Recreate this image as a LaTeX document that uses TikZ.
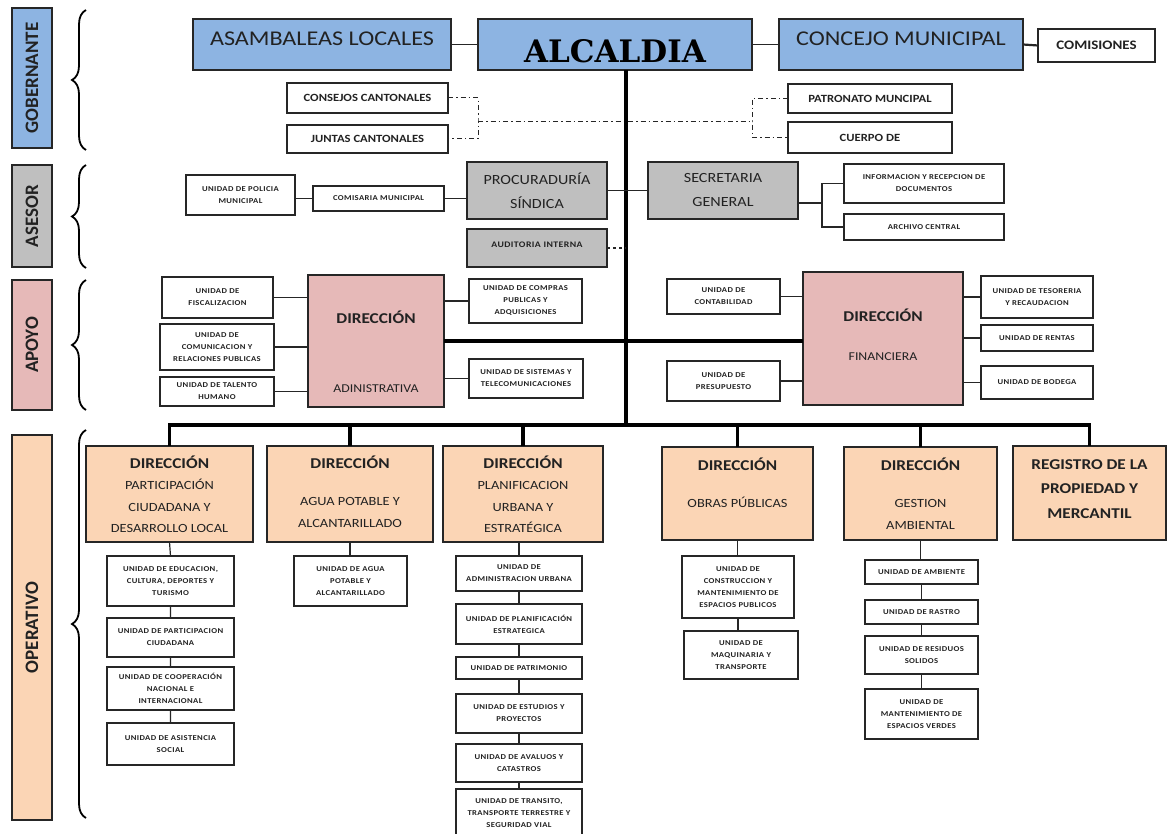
\documentclass[tikz,border=0pt]{standalone}
\usepackage{fontspec}
\setmainfont{Carlito}[FakeStretch=1.15]
\newfontfamily\tinyfont{Carlito}[FakeStretch=1.15,LetterSpace=5]
\newfontfamily\labfont{Carlito}
\newfontfamily\alcfont{DejaVu Serif}
\usetikzlibrary{decorations.pathreplacing}
\definecolor{gblue}{HTML}{8DB4E2}
\definecolor{ggray}{HTML}{BFBFBF}
\definecolor{gpink}{HTML}{E6B9B8}
\definecolor{gpeach}{HTML}{FBD5B5}
\definecolor{edge}{HTML}{262626}
\definecolor{txt}{HTML}{222222}
\newcommand\mydir{{\bfseries\fontsize{15}{18}\selectfont DIRECCIÓN}}
\begin{document}
\begin{tikzpicture}[x=1pt,y=-1pt,
 box/.style={rectangle,draw=edge,line width=1.2pt,inner sep=1pt,outer sep=0pt,align=center,text=txt},
 wbox/.style={box,fill=white},
 tiny/.style={wbox,font=\tinyfont\bfseries\fontsize{7.5}{12}\selectfont},
 small/.style={wbox,font=\bfseries\fontsize{11}{13}\selectfont},
 big/.style={box,fill=gblue,font=\fontsize{21}{24}\selectfont},
 asr/.style={box,fill=ggray,font=\fontsize{14}{24}\selectfont},
 apy/.style={box,fill=gpink,font=\fontsize{12}{18}\selectfont},
 opr/.style={box,fill=gpeach,font=\fontsize{12.5}{21.5}\selectfont},
 lab/.style={box,rotate=90,font=\labfont\bfseries\fontsize{19}{22}\selectfont},
 con/.style={draw=edge,line width=1.2pt},
 thk/.style={draw=black,line width=3.5pt},
 dd/.style={draw=edge,line width=1pt,dash pattern=on 5pt off 3pt on 1.5pt off 3pt},
 brc/.style={draw=black,line width=1.8pt,decorate,decoration={brace,amplitude=14pt,aspect=0.5}},
]
\useasboundingbox[fill=white] (0,0) rectangle (1173,834);

% ---------- level labels ----------
\node[lab,fill=gblue,minimum width=140,minimum height=40] (lgob) at (32,78) {GOBERNANTE};
\node[lab,fill=ggray,minimum width=102,minimum height=40] (lase) at (32,216) {ASESOR};
\node[lab,fill=gpink,minimum width=130,minimum height=40] (lapo) at (32,345) {APOYO};
\node[lab,fill=gpeach,minimum width=385,minimum height=40] (lope) at (32,627.5) {OPERATIVO};
\draw[brc] (86,150) -- (86,10);
\draw[brc] (86,268) -- (86,165);
\draw[brc] (86,410) -- (86,280);
\draw[brc] (86,818) -- (86,430);

% ---------- gobernante ----------
\node[big,minimum width=258,minimum height=51,text height=14pt,text depth=11pt] (asa) at (322,44.5) {ASAMBALEAS LOCALES};
\node[big,minimum width=274,minimum height=51,font=\alcfont\bfseries\fontsize{31}{34}\selectfont,text=black,text height=37pt,text depth=0pt] (alc) at (615,44.5) {ALCALDIA};
\node[big,minimum width=244,minimum height=51,text height=14pt,text depth=11pt] (con) at (901,44.5) {CONCEJO MUNICIPAL};
\node[wbox,minimum width=117,minimum height=33,font=\bfseries\fontsize{13}{15}\selectfont] (com) at (1096.5,45.5) {COMISIONES};
\draw[con] (asa.east) -- (alc.west);
\draw[con] (alc.east) -- (con.west);
\draw[con,line width=2.2pt] (con.east) -- (com.west);

\node[small,minimum width=161,minimum height=30] (cc) at (367.5,98) {CONSEJOS CANTONALES};
\node[small,minimum width=161,minimum height=28] (jc) at (367.5,139) {JUNTAS CANTONALES};
\node[small,minimum width=164,minimum height=29] (pm) at (870,98.5) {PATRONATO MUNCIPAL};
\node[small,minimum width=164,minimum height=31] (cb) at (870,137.5) {CUERPO DE};

\coordinate (dl) at (478,122);
\coordinate (dr) at (752,122);
\coordinate (tb) at (626,425);
\draw[dd] (cc.east) -| (dl) |- (jc.east);
\draw[dd] (dl) -- (dr);
\draw[dd] (pm.west) -| (dr) |- (cb.west);

% ---------- asesor ----------
\node[tiny,minimum width=109,minimum height=40] (pol) at (240.5,195) {UNIDAD DE POLICIA\\MUNICIPAL};
\node[tiny,minimum width=131,minimum height=25] (comi) at (378.5,198.5) {COMISARIA MUNICIPAL};
\node[asr,minimum width=140,minimum height=57] (pro) at (537,190.5) {PROCURADURÍA\\SÍNDICA};
\node[asr,minimum width=140,minimum height=38,font=\tinyfont\bfseries\fontsize{8.5}{13}\selectfont] (aud) at (537,248) {AUDITORIA INTERNA\\[-7pt]\mbox{}};
\node[asr,minimum width=150,minimum height=57] (sec) at (723,190.5) {SECRETARIA\\GENERAL};
\node[tiny,minimum width=160,minimum height=39] (info) at (924,183.5) {INFORMACION Y RECEPCION DE\\DOCUMENTOS};
\node[tiny,minimum width=160,minimum height=26] (arch) at (924,227) {ARCHIVO CENTRAL};
\coordinate (sb) at (822,203);

% ---------- apoyo ----------
\node[tiny,minimum width=111,minimum height=41] (fis) at (217.5,297.5) {UNIDAD DE\\FISCALIZACION};
\node[tiny,minimum width=114,minimum height=46] (comu) at (217,347) {UNIDAD DE\\COMUNICACION Y\\RELACIONES PUBLICAS};
\node[tiny,minimum width=114,minimum height=29] (tal) at (217,391.5) {UNIDAD DE TALENTO\\HUMANO};
\node[apy,minimum width=136,minimum height=132] (adm) at (376,341) {\mbox{}\\[16pt]\mydir\\[51pt]ADINISTRATIVA};
\node[tiny,minimum width=113,minimum height=44] (cmp) at (525.5,301) {UNIDAD DE COMPRAS\\PUBLICAS Y\\ADQUISICIONES};
\node[tiny,minimum width=114,minimum height=39] (sis) at (526,378.5) {UNIDAD DE SISTEMAS Y\\TELECOMUNICACIONES};

\node[apy,minimum width=160,minimum height=133] (fin) at (883,338.5) {\mydir\\[21pt]FINANCIERA\\[-10pt]\mbox{}};
\node[tiny,minimum width=113,minimum height=35] (cont) at (723.5,296.5) {UNIDAD DE\\CONTABILIDAD};
\node[tiny,minimum width=113,minimum height=40] (pres) at (723.5,381) {UNIDAD DE\\PRESUPUESTO};
\node[tiny,minimum width=112,minimum height=42] (tes) at (1037,297) {UNIDAD DE TESORERIA\\Y RECAUDACION};
\node[tiny,minimum width=112,minimum height=26] (ren) at (1037,338) {UNIDAD DE RENTAS};
\node[tiny,minimum width=112,minimum height=33] (bod) at (1037,382.5) {UNIDAD DE BODEGA};

% ---------- operativo ----------
\node[opr,minimum width=167,minimum height=96] (d1) at (169.5,494) {\mydir\\PARTICIPACIÓN\\CIUDADANA Y\\DESARROLLO LOCAL};
\node[opr,minimum width=166,minimum height=96] (d2) at (350,494) {\mydir\\[16pt]AGUA POTABLE Y\\ALCANTARILLADO\\[-16pt]\mbox{}};
\node[opr,minimum width=160,minimum height=96] (d3) at (523,494) {\mydir\\PLANIFICACION\\URBANA Y\\ESTRATÉGICA};
\node[opr,minimum width=151,minimum height=93] (d4) at (737.5,493.5) {\mydir\\[16pt]OBRAS PÚBLICAS\\\mbox{}};
\node[opr,minimum width=153,minimum height=93] (d5) at (920.5,493.5) {\mydir\\[16pt]GESTION\\AMBIENTAL};
\node[opr,minimum width=153,minimum height=94,font=\bfseries\fontsize{15}{24.5}\selectfont] (d6) at (1089.5,493) {REGISTRO DE LA\\PROPIEDAD Y\\MERCANTIL\\[-16.5pt]\mbox{}};

\node[tiny,minimum width=127,minimum height=50] (u11) at (170.5,581) {UNIDAD DE EDUCACION,\\CULTURA, DEPORTES Y\\TURISMO};
\node[tiny,minimum width=127,minimum height=39] (u12) at (170.5,637.5) {UNIDAD DE PARTICIPACION\\CIUDADANA};
\node[tiny,minimum width=127,minimum height=43] (u13) at (170.5,688.5) {UNIDAD DE COOPERACIÓN\\NACIONAL E\\INTERNACIONAL};
\node[tiny,minimum width=127,minimum height=42] (u14) at (170.5,744) {UNIDAD DE ASISTENCIA\\SOCIAL};

\node[tiny,minimum width=113,minimum height=50] (u21) at (350.5,581) {UNIDAD DE AGUA\\POTABLE Y\\ALCANTARILLADO};

\node[tiny,minimum width=126,minimum height=35] (u31) at (519,573.5) {UNIDAD DE\\ADMINISTRACION URBANA};
\node[tiny,minimum width=126,minimum height=40] (u32) at (519,624) {UNIDAD DE PLANIFICACIÓN\\ESTRATEGICA};
\node[tiny,minimum width=126,minimum height=22] (u33) at (519,668) {UNIDAD DE PATRIMONIO};
\node[tiny,minimum width=126,minimum height=39] (u34) at (519,713.5) {UNIDAD DE ESTUDIOS Y\\PROYECTOS};
\node[tiny,minimum width=126,minimum height=38] (u35) at (519,763) {UNIDAD DE AVALUOS Y\\CATASTROS};
\node[tiny,minimum width=126,minimum height=56] (u36) at (519,817) {UNIDAD DE TRANSITO,\\TRANSPORTE TERRESTRE Y\\SEGURIDAD VIAL\\[-4pt]\mbox{}};

\node[tiny,minimum width=112,minimum height=62] (u41) at (738,587) {UNIDAD DE\\CONSTRUCCION Y\\MANTENIMIENTO DE\\ESPACIOS PUBLICOS};
\node[tiny,minimum width=114,minimum height=48] (u42) at (741,655) {UNIDAD DE\\MAQUINARIA Y\\TRANSPORTE};

\node[tiny,minimum width=113,minimum height=24] (u51) at (921.5,572) {UNIDAD DE AMBIENTE};
\node[tiny,minimum width=113,minimum height=24] (u52) at (921.5,612) {UNIDAD DE RASTRO};
\node[tiny,minimum width=113,minimum height=38] (u53) at (921.5,655) {UNIDAD DE RESIDUOS\\SOLIDOS};
\node[tiny,minimum width=113,minimum height=50] (u54) at (921.5,714) {UNIDAD DE\\MANTENIMIENTO DE\\ESPACIOS VERDES};

% ---------- connectors ----------
\draw[thk] (alc.south -| tb) -- (tb);
\draw[con] (comi.west) -- (comi.west -| pol.east);
\draw[con] (comi.east) -- (comi.east -| pro.west);
\draw[con] (pro.east) -- (pro.east -| tb);
\draw[con,dashed] (aud.east) -- (aud.east -| tb);
\draw[con] (sec.west) -- (sec.west -| tb);
\draw[con] (sec.east |- sb) -- (sb);
\draw[con] (info.west) -| (sb) |- (arch.west);

\draw[con] (fis.east) -- (fis.east -| adm.west);
\draw[con] (comu.east) -- (comu.east -| adm.west);
\draw[con] (tal.east) -- (tal.east -| adm.west);
\draw[con] (cmp.west) -- (cmp.west -| adm.east);
\draw[con] (sis.west) -- (sis.west -| adm.east);
\draw[thk] (adm.east) -- (adm.east -| fin.west);
\draw[con] (cont.east) -- (cont.east -| fin.west);
\draw[con] (pres.east) -- (pres.east -| fin.west);
\draw[con] (tes.west) -- (tes.west -| fin.east);
\draw[con] (ren.west) -- (ren.west -| fin.east);
\draw[con] (bod.west) -- (bod.west -| fin.east);

\draw[thk] (d1.north) -- (d1.north |- tb) -- (d6.north |- tb) -- (d6.north);
\foreach \n in {d2,d3,d4,d5} \draw[thk] (\n.north) -- (\n.north |- tb);

\draw[con] (d1.south) -- (u11.north) (u11.south) -- (u12.north) (u12.south) -- (u13.north) (u13.south) -- (u14.north);
\draw[con] (d2.south |- u21.north) -- (d2.south);
\draw[con] (d3.south -| u31.north) -- (u31.north) (u31.south) -- (u32.north) (u32.south) -- (u33.north) (u33.south) -- (u34.north) (u34.south) -- (u35.north) (u35.south) -- (u36.north);
\draw[con] (d4.south) -- (d4.south |- u41.north) (u41.south) -- (u41.south |- u42.north);
\draw[con] (d5.south) -- (d5.south |- u51.north) (u51.south) -- (u52.north) (u52.south) -- (u53.north) (u53.south) -- (u54.north);
\end{tikzpicture}
\end{document}
